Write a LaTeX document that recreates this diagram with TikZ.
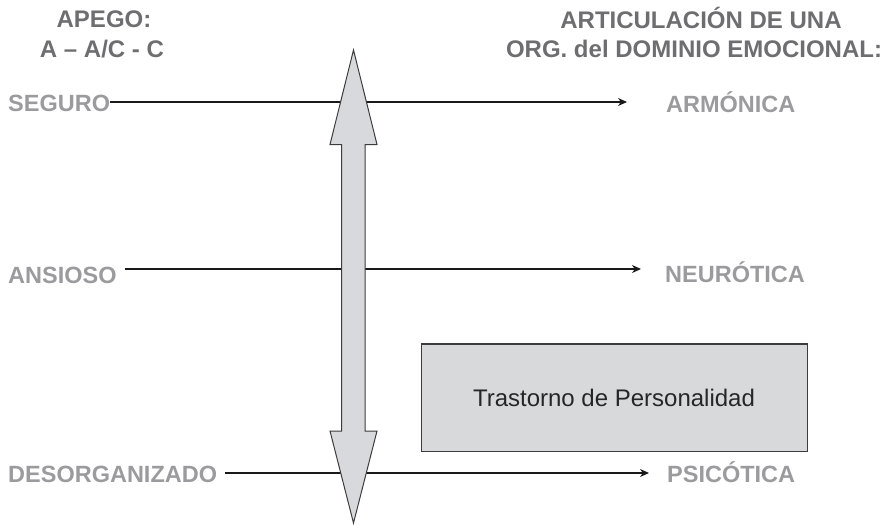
\documentclass[tikz,border=0pt]{standalone}
\usepackage{fontspec}
\setmainfont{Liberation Sans}
\usetikzlibrary{arrows.meta}
\definecolor{hdr}{RGB}{110,110,112}
\definecolor{lbl}{RGB}{155,155,158}
\definecolor{arrfill}{RGB}{216,217,220}
\definecolor{boxfill}{RGB}{216,217,219}
\definecolor{edge}{RGB}{60,60,62}
\tikzset{
  hdrtext/.style={inner sep=0pt, text=hdr, font=\fontsize{24}{28}\selectfont\bfseries},
  lbltext/.style={inner sep=0pt, text=lbl, font=\fontsize{23.5}{28}\selectfont\bfseries},
  conn/.style={line width=1.4pt, draw=black!90, -{Stealth[length=9pt,width=8pt]}},
}
\begin{document}
\begin{tikzpicture}[x=1pt,y=-1pt]
\useasboundingbox (0,0) rectangle (887,525);
% headers
\node[hdrtext, anchor=base] (h1) at (104,27) {APEGO:};
\node[hdrtext, anchor=base] (h2) at (102,57) {A – A/C - C};
\node[hdrtext, anchor=base] (h3) at (701,28) {ARTICULACIÓN DE UNA};
\node[hdrtext, anchor=base] (h4) at (694,57) {ORG. del DOMINIO EMOCIONAL:};
% left labels
\node[lbltext, anchor=base west] (seguro) at (8,111) {SEGURO};
\node[lbltext, anchor=base west] (ansioso) at (8,283) {ANSIOSO};
\node[lbltext, anchor=base west] (desorg) at (8,482) {DESORGANIZADO};
% right labels
\node[lbltext, anchor=base west] (armonica) at (666,112) {ARMÓNICA};
\node[lbltext, anchor=base west] (neurotica) at (665,282) {NEURÓTICA};
\node[lbltext, anchor=base west] (psicotica) at (667,482) {PSICÓTICA};
% arrow end points
\coordinate (s0) at (110,102);
\coordinate (s1) at (627,102);
\coordinate (a0) at (125,269);
\coordinate (a1) at (641,269);
\coordinate (d0) at (225,473);
\coordinate (d1) at (649,473);
\draw[conn] (s0) -- (s1);
\draw[conn] (a0) -- (a1);
\draw[conn] (d0) -- (d1);
% box
\node[draw=edge, line width=1pt, fill=boxfill, minimum width=386pt, minimum height=107pt, inner sep=0pt,
      font=\fontsize{24}{28}\selectfont, text=black!85] (tp) at (614,397.5) {Trastorno de Personalidad};
\draw[edge, line width=2pt] (tp.north west) -- (tp.north east);
% double arrow
\filldraw[fill=arrfill, draw=edge, line width=1pt]
  (353.5,50) -- (377,144.5) -- (365,144.5) -- (365,431) -- (377,431) -- (353.5,523)
  -- (330,431) -- (341.5,431) -- (341.5,144.5) -- (330,144.5) -- cycle;
\end{tikzpicture}
\end{document}
